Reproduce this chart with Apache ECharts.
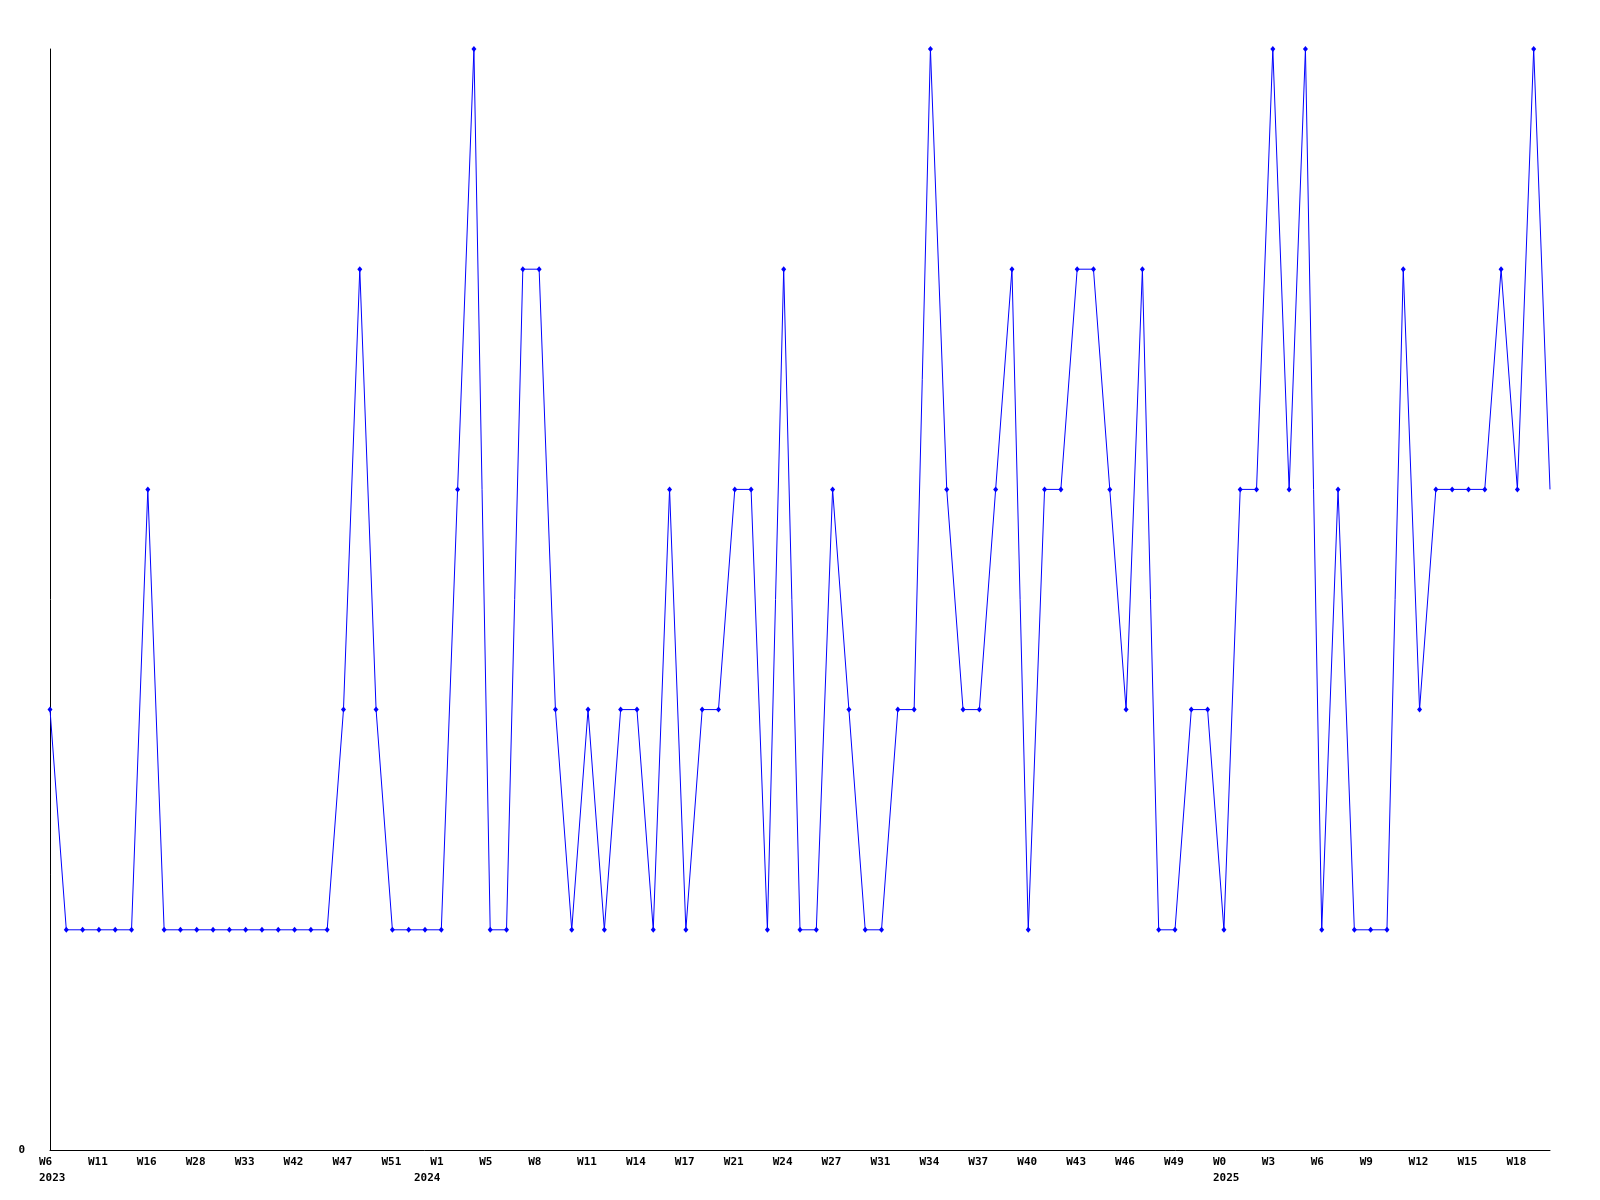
<!DOCTYPE html>
<html>
<head>
<meta charset="utf-8">
<script src="https://cdn.jsdelivr.net/npm/echarts@6/dist/echarts.min.js"></script>
<style>
html,body{margin:0;padding:0;background:#fff;}
#chart{width:1600px;height:1200px;}
</style>
</head>
<body>
<div id="chart"></div>
<script>
// Week tick labels shown every 3rd category
const weekLabels = ['W6','W11','W16','W28','W33','W42','W47','W51','W1','W5','W8','W11','W14','W17','W21','W24','W27','W31','W34','W37','W40','W43','W46','W49','W0','W3','W6','W9','W12','W15','W18'];
// Year labels, keyed by the category index they sit under
const yearLabels = {0: '2023', 23: '2024', 72: '2025'};
// Series values (93 weekly points)
const values = [
  2,1,1,1,1,1,3,1,1,1,
  1,1,1,1,1,1,1,1,2,4,
  2,1,1,1,1,3,5,1,1,4,
  4,2,1,2,1,2,2,1,3,1,
  2,2,3,3,1,4,1,1,3,2,
  1,1,2,2,5,3,2,2,3,4,
  1,3,3,4,4,3,2,4,1,1,
  2,2,1,3,3,5,3,5,1,3,
  1,1,1,4,2,3,3,3,3,4,
  3,5,3
];

const categories = values.map((v, i) => String(i));
const seriesData = values.map((v, i) => i === values.length - 1 ? {value: v, symbol: 'none'} : v);

const chart = echarts.init(document.getElementById('chart'));
const font = {fontFamily: 'DejaVu Sans Mono', fontWeight: 'bold', fontSize: 11, color: '#000'};
chart.setOption({
  animation: false,
  backgroundColor: '#fff',
  grid: {left: 50, right: 50, top: 49, bottom: 50, containLabel: false},
  xAxis: {
    type: 'category',
    data: categories,
    boundaryGap: false,
    axisLine: {lineStyle: {color: '#000', width: 1}},
    axisTick: {show: false},
    splitLine: {show: false},
    axisLabel: Object.assign({}, font, {
      interval: function (idx) { return idx % 3 === 0 || yearLabels[idx] !== undefined; },
      margin: 4,
      lineHeight: 16,
      align: 'center',
      verticalAlign: 'top',
      hideOverlap: false,
      rich: {
        t: Object.assign({}, font, {width: 22, align: 'left', lineHeight: 16, height: 16})
      },
      formatter: function (val) {
        const i = Number(val);
        const w = i % 3 === 0 ? (weekLabels[i / 3] || '') : '';
        const y = yearLabels[i];
        return y ? '{t|' + w + '}\n{t|' + y + '}' : '{t|' + w + '}';
      }
    })
  },
  yAxis: {
    type: 'value',
    min: 0,
    max: 5,
    interval: 1,
    axisLine: {show: true, lineStyle: {color: '#000', width: 1}},
    axisTick: {show: false},
    splitLine: {show: false},
    axisLabel: Object.assign({}, font, {
      margin: 25,
      formatter: function (v) { return v === 0 ? '0' : ''; }
    })
  },
  series: [{
    type: 'line',
    data: seriesData,
    symbol: 'diamond',
    symbolSize: [5, 6],
    showAllSymbol: true,
    lineStyle: {color: '#0000ff', width: 1},
    itemStyle: {color: '#0000ff'}
  }]
});
</script>
</body>
</html>
